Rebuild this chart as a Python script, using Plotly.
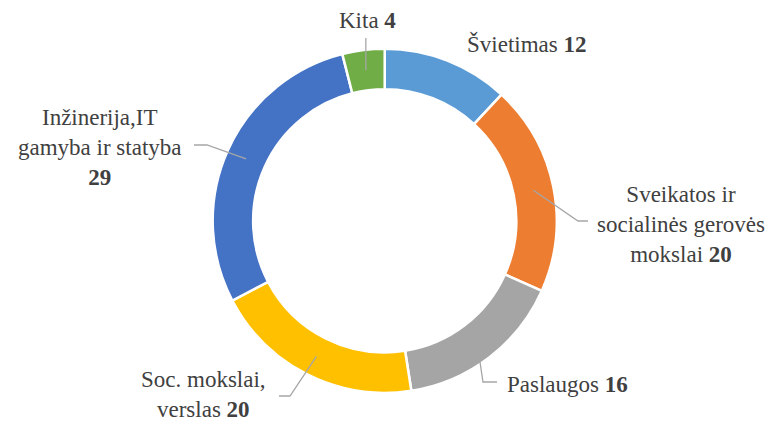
import math
import plotly.graph_objects as go

# ---- data ----
labels = ["Švietimas", "Sveikatos ir socialinės gerovės mokslai", "Paslaugos",
          "Soc. mokslai, verslas", "Inžinerija,IT gamyba ir statyba", "Kita"]
values = [12, 20, 16, 20, 29, 4]
label_text = ["Švietimas <b>12</b>",
              "Sveikatos ir<br>socialinės gerovės<br>mokslai <b>20</b>",
              "Paslaugos <b>16</b>",
              "Soc. mokslai,<br>verslas <b>20</b>",
              "Inžinerija,IT<br>gamyba ir statyba<br><b>29</b>",
              "Kita <b>4</b>"]
colors = ["#5B9BD5", "#ED7D31", "#A5A5A5", "#FFC000", "#4472C4", "#70AD47"]

# ---- layout geometry (pixels, window frame) ----
OFF = 8  # default page body margin
W, H = 775 - 2 * OFF, 431 - 2 * OFF
CX, CY, R = 384.7, 220.8, 172.0
HOLE = 0.765
RMID = R * (1 + HOLE) / 2

# label centres and leader elbows/ends (pixel placement of text)
label_pos = [(526, 44), (681, 224), (567, 384), (203, 394), (100, 147), (367, 20)]
leader = [None,
          [(578, 221), (588, 221)],
          [(483, 382), (497, 382)],
          [(290, 396), (279, 396)],
          [(207, 145), (194, 145)],
          "up"]


def px(x):
    return (x - OFF) / W


def py(y):
    return 1 - (y - OFF) / H


fig = go.Figure()
fig.add_trace(go.Pie(
    labels=labels, values=values, sort=False, direction="clockwise", rotation=0,
    hole=HOLE, textinfo="none", hoverinfo="skip",
    marker=dict(colors=colors, line=dict(color="white", width=2.5)),
    domain=dict(x=[px(CX - R), px(CX + R)], y=[py(CY + R), py(CY - R)]),
    showlegend=False,
))

total = sum(values)
cum = 0
shapes = []
annotations = []
for i, v in enumerate(values):
    mid = (cum + v / 2) / total * 2 * math.pi
    cum += v
    sx = CX + RMID * math.sin(mid)
    sy = CY - RMID * math.cos(mid)
    lp = leader[i]
    pts = None
    if lp == "up":
        pts = [(sx, sy), (sx, 38)]
    elif lp is not None:
        pts = [(sx, sy)] + lp
    if pts:
        path = "M " + " L ".join(f"{px(a):.5f},{py(b):.5f}" for a, b in pts)
        shapes.append(dict(type="path", path=path, xref="paper", yref="paper",
                           line=dict(color="#A6A6A6", width=1.3), layer="above"))
    lx, ly = label_pos[i]
    annotations.append(dict(text=label_text[i], x=px(lx), y=py(ly), xref="paper", yref="paper",
                            xanchor="center", yanchor="middle", showarrow=False, align="center",
                            font=dict(family="Liberation Serif", size=23, color="#404040")))

fig.update_layout(
    width=W, height=H, margin=dict(l=0, r=0, t=0, b=0),
    paper_bgcolor="white", plot_bgcolor="white",
    shapes=shapes, annotations=annotations,
)
fig.write_html("out.html")
